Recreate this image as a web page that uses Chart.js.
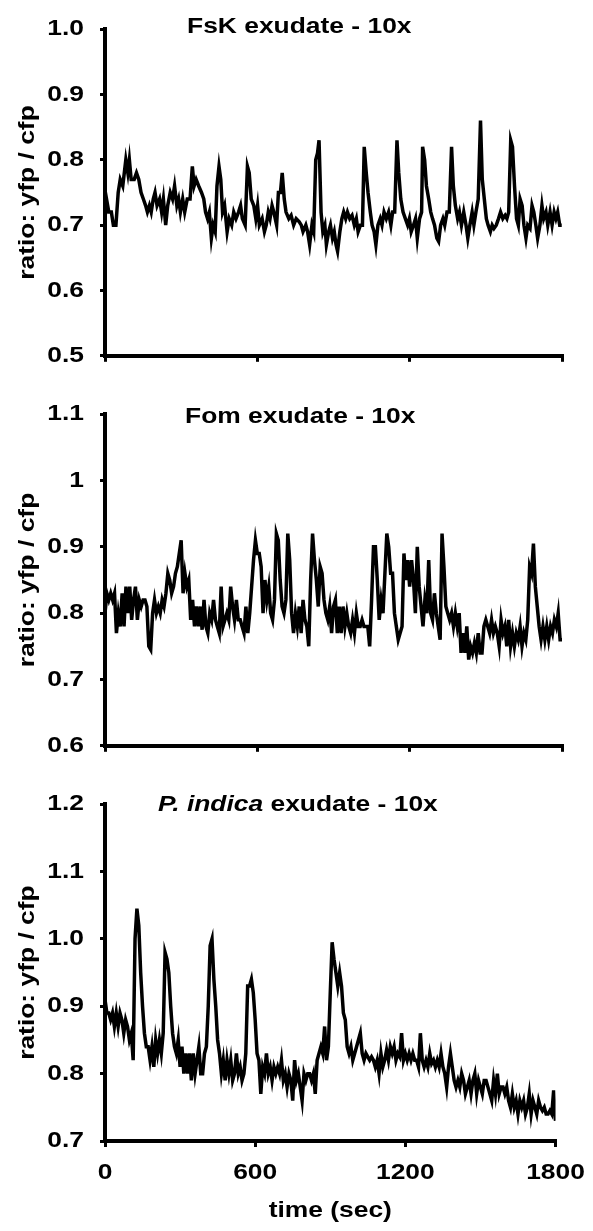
<!DOCTYPE html>
<html>
<head>
<meta charset="utf-8">
<script src="https://cdn.jsdelivr.net/npm/chart.js@4.4.1/dist/chart.umd.min.js"></script>
<style>
  html, body { margin: 0; padding: 0; background: #fff; }
  body { width: 593px; height: 1231px; position: relative; overflow: hidden; }
  canvas { position: absolute; left: 0; }
</style>
</head>
<body>
<canvas id="c1" width="593" height="385" style="top:0px"></canvas>
<canvas id="c2" width="593" height="390" style="top:385px"></canvas>
<canvas id="c3" width="593" height="456" style="top:775px"></canvas>
<script>
// ---------------- DATA ----------------
const xTickLabels = [0, 600, 1200, 1800];
const yLabel = 'ratio: yfp / cfp';
const xLabel = 'time (sec)';

// Panel 1: FsK exudate - 10x  (time in s, ratio)
const fskTime = [0,6,15,25,33,43,52,60,70,82,90,96,103,115,124,133,142,151,160,167,175,182,190,197,205,215,223,230,239,247,257,266,274,283,290,297,306,314,324,335,344,351,359,369,380,389,396,404,411,419,426,434,441,449,456,463,471,481,489,499,507,516,526,534,541,552,561,568,576,586,594,601,608,619,628,635,643,650,658,665,676,683,691,698,706,713,724,733,743,753,765,773,780,791,798,806,815,822,830,837,843,851,858,866,872,881,888,896,903,910,916,925,933,940,948,955,964,973,982,990,997,1006,1014,1021,1029,1036,1045,1052,1060,1067,1075,1084,1091,1099,1108,1117,1126,1133,1141,1150,1157,1165,1174,1183,1192,1199,1206,1215,1223,1230,1239,1247,1251,1259,1266,1275,1283,1290,1298,1307,1314,1322,1331,1338,1347,1356,1365,1372,1380,1389,1396,1404,1413,1422,1429,1437,1446,1453,1461,1470,1479,1486,1494,1502,1509,1518,1525,1532,1541,1550,1558,1567,1576,1583,1590,1598,1605,1613,1621,1628,1635,1643,1650,1658,1665,1674,1682,1689,1697,1704,1713,1721,1728,1737,1744,1753,1761,1769,1776,1783,1791,1799];
const fskRatio = [0.71,0.74,0.72,0.72,0.70,0.70,0.75,0.77,0.76,0.80,
0.78,0.80,0.77,0.77,0.78,0.77,0.75,0.74,0.73,0.72,
0.73,0.72,0.74,0.75,0.73,0.74,0.72,0.74,0.70,0.73,
0.75,0.74,0.76,0.73,0.74,0.72,0.74,0.72,0.74,0.74,
0.79,0.76,0.77,0.76,0.75,0.74,0.72,0.71,0.72,0.68,
0.70,0.69,0.76,0.79,0.77,0.72,0.73,0.69,0.71,0.70,
0.72,0.71,0.72,0.73,0.71,0.70,0.79,0.78,0.74,0.73,
0.71,0.73,0.70,0.71,0.69,0.70,0.72,0.71,0.73,0.72,
0.70,0.75,0.75,0.78,0.74,0.72,0.71,0.715,0.70,0.71,
0.705,0.70,0.69,0.70,0.69,0.67,0.70,0.69,0.80,0.81,
0.83,0.72,0.69,0.70,0.67,0.69,0.70,0.68,0.69,0.67,
0.66,0.69,0.71,0.72,0.71,0.72,0.71,0.715,0.70,0.71,
0.69,0.70,0.70,0.82,0.78,0.75,0.72,0.70,0.69,0.67,
0.70,0.71,0.70,0.72,0.71,0.72,0.70,0.72,0.72,0.83,
0.78,0.74,0.72,0.71,0.70,0.71,0.69,0.70,0.71,0.68,
0.71,0.72,0.82,0.80,0.76,0.74,0.72,0.71,0.70,0.68,
0.675,0.70,0.71,0.70,0.72,0.72,0.82,0.76,0.73,0.71,
0.72,0.70,0.72,0.70,0.68,0.70,0.72,0.70,0.72,0.74,
0.86,0.77,0.74,0.71,0.70,0.69,0.70,0.695,0.70,0.71,
0.72,0.71,0.715,0.71,0.72,0.83,0.82,0.76,0.71,0.70,
0.74,0.73,0.70,0.68,0.70,0.695,0.73,0.72,0.70,0.68,
0.70,0.73,0.71,0.72,0.70,0.72,0.70,0.72,0.71,0.72,
0.70,0.70];

// Panels 2 and 3 are read on a regular acquisition grid (one frame every 7.5 s, 0..1800 s)
const frameIntervalSec = 7.5;

// Panel 2: Fom exudate - 10x
const fomRatio = [0.80,0.83,0.82,0.83,0.82,0.83,0.77,0.80,0.78,0.83,0.78,0.84,0.80,0.84,0.79,0.82,0.84,0.79,0.82,0.81,0.82,0.82,0.81,0.75,0.745,
0.80,0.82,0.80,0.81,0.80,0.82,0.81,0.83,0.86,0.85,0.83,0.84,0.86,0.87,0.89,0.91,0.83,0.86,0.84,0.85,0.79,0.82,0.78,0.81,0.78,0.81,
0.775,0.82,0.78,0.77,0.80,0.79,0.82,0.79,0.78,0.77,
0.84,0.78,0.79,0.80,0.79,0.84,0.81,0.79,0.82,0.79,
0.79,0.78,0.77,0.81,0.77,0.80,0.84,0.88,0.91,0.89,
0.89,0.87,0.80,0.85,0.82,0.84,0.80,0.79,0.82,0.92,
0.91,0.85,0.81,0.80,0.82,0.92,0.88,0.80,0.77,0.80,
0.78,0.81,0.77,0.82,0.79,0.78,0.75,0.85,0.92,0.88,
0.85,0.81,0.87,0.86,0.82,0.80,0.79,0.81,0.77,0.81,
0.82,0.77,0.81,0.77,0.81,0.78,0.80,0.78,0.77,0.79,
0.77,0.80,0.78,0.78,0.79,0.78,0.78,0.78,0.75,0.82,
0.90,0.90,0.85,0.79,0.82,0.80,0.86,0.92,0.90,0.86,
0.86,0.80,0.78,0.76,0.77,0.78,0.89,0.85,0.88,0.84,
0.88,0.85,0.80,0.90,0.84,0.81,0.78,0.82,0.80,0.88,
0.80,0.79,0.83,0.80,0.78,0.76,0.92,0.87,0.81,0.80,
0.79,0.80,0.78,0.80,0.78,0.80,0.74,0.77,0.74,0.78,
0.73,0.75,0.74,0.755,0.74,0.77,0.74,0.74,0.78,0.79,
0.78,0.77,0.79,0.77,0.78,0.77,0.75,0.79,0.77,0.78,
0.75,0.79,0.75,0.77,0.75,0.77,0.76,0.78,0.75,0.77,
0.76,0.79,0.87,0.86,0.905,0.84,0.81,0.78,0.76,0.78,
0.76,0.78,0.76,0.78,0.77,0.79,0.78,0.80,0.76,0.76];

// Panel 3: P. indica exudate - 10x
const piRatio = [0.91,0.89,0.89,0.88,0.89,0.87,0.89,0.87,0.89,0.88,
0.86,0.88,0.87,0.85,0.86,0.82,1.00,1.045,1.02,0.95,
0.90,0.86,0.84,0.84,0.82,0.84,0.81,0.85,0.83,0.85,
0.83,0.86,0.98,0.97,0.95,0.90,0.86,0.84,0.83,0.85,
0.81,0.84,0.80,0.83,0.80,0.83,0.79,0.83,0.80,0.82,
0.84,0.80,0.80,0.83,0.84,0.90,0.99,1.00,0.94,0.90,
0.85,0.83,0.80,0.82,0.79,0.82,0.80,0.82,0.79,0.80,
0.83,0.80,0.81,0.79,0.80,0.83,
0.93,0.93,0.94,0.92,0.88,0.83,0.82,0.77,0.81,0.80,
0.83,0.80,0.81,0.79,0.81,0.80,0.81,0.80,0.82,0.79,
0.80,0.78,0.80,0.79,0.76,0.82,0.79,0.80,0.78,0.76,
0.80,0.79,0.80,0.80,0.79,0.80,0.77,0.82,0.83,0.84,
0.83,0.87,0.82,0.84,0.92,0.995,0.97,0.95,0.93,0.95,
0.93,0.89,0.88,0.84,0.83,0.84,0.82,0.83,0.84,0.85,
0.86,0.83,0.82,0.83,0.825,0.82,0.825,0.82,0.81,0.82,
0.80,0.83,0.81,0.82,0.835,0.82,0.84,0.83,0.84,0.82,
0.83,0.825,0.86,0.82,0.83,0.82,0.83,0.82,0.83,0.82,
0.82,0.81,0.86,0.82,0.81,0.82,0.81,0.83,0.815,0.82,
0.81,0.82,0.81,0.83,0.81,0.80,0.78,0.81,0.83,0.81,
0.79,0.78,0.79,0.78,0.80,0.79,0.77,0.78,0.79,0.77,
0.79,0.80,0.77,0.79,0.78,0.77,0.79,0.79,0.78,0.77,
0.76,0.79,0.77,0.80,0.77,0.78,0.78,0.77,0.78,0.76,
0.75,0.77,0.75,0.76,0.74,0.76,0.75,0.76,0.74,0.75,
0.77,0.74,0.76,0.75,0.74,0.76,0.75,0.745,0.75,0.74,
0.74,0.745,0.74,0.775,0.73];

// ---------------- RENDERING ----------------
const FONT = "Arial, 'Liberation Sans', Helvetica, sans-serif";
const TEXT_STRETCH = 1.2; // the figure's lettering is horizontally widened
(function () {
  const proto = CanvasRenderingContext2D.prototype;
  const orig = proto.fillText;
  proto.fillText = function (t, x, y, mw) {
    this.save();
    this.translate(x, y);
    this.scale(TEXT_STRETCH, 1);
    if (mw === undefined || mw === null) orig.call(this, t, 0, 0);
    else orig.call(this, t, 0, 0, mw / TEXT_STRETCH);
    this.restore();
  };
})();

const panelTitle = {
  id: 'panelTitle',
  afterDraw(chart, args, o) {
    if (!o || !o.parts) return;
    const ctx = chart.ctx;
    ctx.save();
    ctx.fillStyle = '#000';
    ctx.textAlign = 'left';
    ctx.textBaseline = 'alphabetic';
    let x = o.x;
    for (const p of o.parts) {
      ctx.font = (p.italic ? 'italic ' : '') + 'bold 22px ' + FONT;
      ctx.fillText(p.text, x, o.y);
      x += ctx.measureText(p.text).width * TEXT_STRETCH;
    }
    ctx.restore();
  }
};

function toPoints(times, values) {
  return values.map((v, i) => ({ x: times[i], y: v }));
}
function gridPoints(values) {
  return values.map((v, i) => ({ x: i * frameIntervalSec, y: v }));
}

const tickFont = { family: FONT, size: 22, weight: 'bold' };

function makePanel(id, cfg) {
  return new Chart(document.getElementById(id), {
    type: 'line',
    data: {
      datasets: [{
        data: cfg.points,
        borderColor: '#000',
        borderWidth: 3.5,
        pointRadius: 0,
        tension: 0,
        fill: false
      }]
    },
    options: {
      responsive: false,
      animation: false,
      events: [],
      layout: { padding: { left: 15, right: 31, top: cfg.padTop, bottom: cfg.padBottom } },
      plugins: {
        legend: { display: false },
        tooltip: { enabled: false },
        panelTitle: cfg.title
      },
      scales: {
        x: {
          type: 'linear',
          min: xTickLabels[0],
          max: xTickLabels[xTickLabels.length - 1],
          afterFit(s) { s.height = cfg.xHeight; },
          afterBuildTicks(s) { s.ticks = xTickLabels.map(v => ({ value: v })); },
          border: { display: true, color: '#000', width: 4 },
          grid: { display: true, drawOnChartArea: false, drawTicks: true, tickLength: 6, lineWidth: 3, color: '#000' },
          ticks: {
            display: cfg.showX,
            color: '#000',
            font: tickFont,
            padding: 13,
            maxRotation: 0,
            autoSkip: false,
            callback: v => String(v)
          },
          title: {
            display: cfg.showX,
            text: xLabel,
            color: '#000',
            font: tickFont,
            padding: { top: 0, bottom: 7 }
          }
        },
        y: {
          min: cfg.yMin,
          max: cfg.yMax,
          afterFit(s) { s.width = 90; },
          afterBuildTicks(s) { s.ticks = cfg.yTicks.map(v => ({ value: v })); },
          border: { display: true, color: '#000', width: 4 },
          grid: { display: true, drawOnChartArea: false, drawTicks: true, tickLength: 5, lineWidth: 3, color: '#000' },
          ticks: {
            color: '#000',
            font: tickFont,
            padding: 16,
            callback: cfg.yFmt
          },
          title: {
            display: true,
            text: yLabel,
            color: '#000',
            font: tickFont,
            padding: 0
          }
        }
      }
    },
    plugins: [panelTitle]
  });
}

const yTicks1 = [0.5, 0.6, 0.7, 0.8, 0.9, 1.0];
const yTicks2 = [0.6, 0.7, 0.8, 0.9, 1.0, 1.1];
const yTicks3 = [0.7, 0.8, 0.9, 1.0, 1.1, 1.2];
const fmt1 = v => Number(v).toFixed(1);
const fmt2 = v => (Math.abs(v - 1) < 1e-9 ? '1' : Number(v).toFixed(1));

makePanel('c1', {
  points: toPoints(fskTime, fskRatio),
  yMin: 0.5, yMax: 1.0, yTicks: yTicks1, yFmt: fmt1,
  padTop: 21, padBottom: 6, xHeight: 12, showX: false,
  title: { x: 187, y: 33, parts: [{ text: 'FsK exudate - 10x' }] }
});
makePanel('c2', {
  points: gridPoints(fomRatio),
  yMin: 0.6, yMax: 1.1, yTicks: yTicks2, yFmt: fmt2,
  padTop: 23, padBottom: 9, xHeight: 12, showX: false,
  title: { x: 185, y: 38, parts: [{ text: 'Fom exudate - 10x' }] }
});
makePanel('c3', {
  points: gridPoints(piRatio),
  yMin: 0.7, yMax: 1.2, yTicks: yTicks3, yFmt: fmt1,
  padTop: 20, padBottom: 0, xHeight: 90, showX: true,
  title: { x: 158, y: 36, parts: [{ text: 'P. indica', italic: true }, { text: ' exudate - 10x' }] }
});
</script>
</body>
</html>
